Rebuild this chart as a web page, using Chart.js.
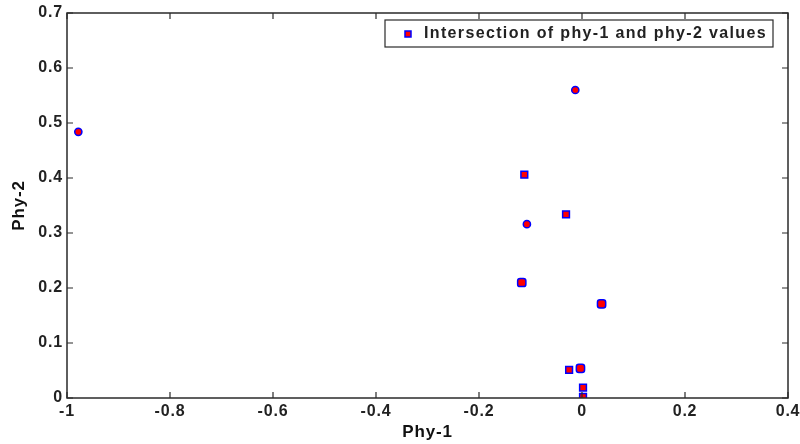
<!DOCTYPE html>
<html><head><meta charset="utf-8">
<script src="https://cdn.jsdelivr.net/npm/chart.js@4.4.0/dist/chart.umd.min.js"></script>
<style>html,body{margin:0;padding:0;background:#fff}#wrap{width:800px;height:444px}</style>
</head><body><div id="wrap"><canvas id="c" width="800" height="444"></canvas></div>
<script>
const seriesLabel = 'Intersection of phy-1 and phy-2 values';
const phy1 = [-0.978, -0.013, -0.112, -0.031, -0.107, -0.117, 0.038, -0.025, -0.003, 0.002, 0.002];
const phy2 = [0.484, 0.560, 0.406, 0.334, 0.316, 0.210, 0.171, 0.051, 0.054, 0.019, 0.002];
const xTicks = [-1, -0.8, -0.6, -0.4, -0.2, 0, 0.2, 0.4];
const yTicks = [0, 0.1, 0.2, 0.3, 0.4, 0.5, 0.6, 0.7];
const markerStyles = ['circle','circle','rect','rect','circle','rectRounded','rectRounded','rect','rectRounded','rect','rect'];

const points = phy1.map((x, i) => ({x: x, y: phy2[i]}));
const FONT = '"Liberation Sans", Arial, sans-serif';
const TXT = '#222';
const SPACING = '0.8px';

const framePlugin = {
  id: 'frame',
  beforeLayout(chart) { chart.ctx.letterSpacing = SPACING; },
  beforeDraw(chart) { chart.ctx.letterSpacing = SPACING; },
  afterDatasetsDraw(chart) {
    const {ctx, chartArea: a, scales} = chart;
    ctx.save();
    ctx.strokeStyle = '#2a2a2a';
    ctx.lineWidth = 1.5;
    ctx.strokeRect(a.left, a.top, a.right - a.left, a.bottom - a.top);
    ctx.lineWidth = 1.2;
    const L = 6;
    ctx.beginPath();
    xTicks.forEach(v => {
      const px = scales.x.getPixelForValue(v);
      ctx.moveTo(px, a.bottom); ctx.lineTo(px, a.bottom - L);
      ctx.moveTo(px, a.top); ctx.lineTo(px, a.top + L);
    });
    yTicks.forEach(v => {
      const py = scales.y.getPixelForValue(v);
      ctx.moveTo(a.left, py); ctx.lineTo(a.left + L, py);
      ctx.moveTo(a.right, py); ctx.lineTo(a.right - L, py);
    });
    ctx.stroke();

    // legend box
    const bx = 385, by = 20, bw = 388, bh = 27;
    ctx.fillStyle = '#fff';
    ctx.fillRect(bx, by, bw, bh);
    ctx.strokeStyle = '#2a2a2a';
    ctx.lineWidth = 1.2;
    ctx.strokeRect(bx, by, bw, bh);
    ctx.fillStyle = '#ff0000';
    ctx.strokeStyle = '#0000ff';
    ctx.lineWidth = 1.5;
    ctx.fillRect(405, 31, 6, 6);
    ctx.strokeRect(405, 31, 6, 6);
    ctx.fillStyle = TXT;
    ctx.font = 'bold 16px ' + FONT;
    ctx.textBaseline = 'middle';
    ctx.textAlign = 'left';
    ctx.letterSpacing = '0px';
    const w0 = ctx.measureText(seriesLabel).width;
    const target = 343;
    ctx.letterSpacing = Math.max(0, (target - w0) / seriesLabel.length).toFixed(2) + 'px';
    ctx.fillText(seriesLabel, 424, 34);
    ctx.restore();
  }
};

new Chart(document.getElementById('c'), {
  type: 'scatter',
  data: {
    datasets: [{
      label: seriesLabel,
      data: points,
      pointStyle: markerStyles,
      pointRadius: points.map((p, i) => markerStyles[i] === 'circle' ? 3.6 : 4.8),
      pointBackgroundColor: '#ff0000',
      pointBorderColor: '#0000ff',
      pointBorderWidth: 1.5,
      pointHoverRadius: 5
    }]
  },
  options: {
    responsive: false,
    animation: false,
    devicePixelRatio: 1,
    layout: {padding: {top: 13, right: 12, left: 0, bottom: 0}},
    plugins: {legend: {display: false}, tooltip: {enabled: false}},
    scales: {
      x: {
        type: 'linear', min: -1, max: 0.4,
        afterBuildTicks(s) { s.ticks = xTicks.map(v => ({value: v})); },
        afterFit(s) { s.height = 46; s.paddingLeft = 0; s.paddingRight = 0; },
        grid: {display: false, drawTicks: false},
        border: {display: false},
        ticks: {padding: 4, color: TXT, font: {family: FONT, size: 16, weight: 'bold'}, maxRotation: 0,
          callback: v => String(Math.round(v * 10) / 10)},
        title: {display: true, text: 'Phy-1', color: '#111', padding: {top: 0, bottom: 1}, font: {family: FONT, size: 17, weight: 'bold'}}
      },
      y: {
        type: 'linear', min: 0, max: 0.7,
        afterBuildTicks(s) { s.ticks = yTicks.map(v => ({value: v})); },
        afterFit(s) { s.width = 67; s.paddingTop = 0; s.paddingBottom = 0; },
        grid: {display: false, drawTicks: false},
        border: {display: false},
        ticks: {padding: 4, color: TXT, font: {family: FONT, size: 16, weight: 'bold'},
          callback: v => String(Math.round(v * 10) / 10)},
        title: {display: true, text: 'Phy-2', color: '#111', padding: {top: 9, bottom: 6}, font: {family: FONT, size: 17, weight: 'bold'}}
      }
    }
  },
  plugins: [framePlugin]
});
</script>
</body></html>
